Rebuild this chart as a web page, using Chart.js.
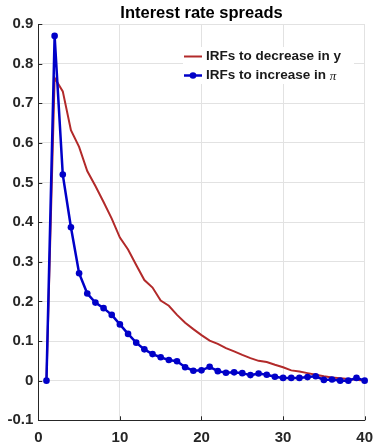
<!DOCTYPE html>
<html><head><meta charset="utf-8">
<script src="https://cdn.jsdelivr.net/npm/chart.js@4.4.1/dist/chart.umd.min.js"></script>
<style>html,body{margin:0;padding:0;background:#fff}#wrap{width:373px;height:442px;position:relative}canvas{display:block}</style>
</head><body><div id="wrap"><canvas id="c" width="373" height="442"></canvas></div>
<script>
const periods = [1,2,3,4,5,6,7,8,9,10,11,12,13,14,15,16,17,18,19,20,21,22,23,24,25,26,27,28,29,30,31,32,33,34,35,36,37,38,39,40];
const irfDecreaseY = [0,0.764,0.73,0.632,0.59,0.529,0.491,0.451,0.409,0.361,0.331,0.292,0.254,0.235,0.202,0.189,0.166,0.146,0.130,0.115,0.101,0.093,0.082,0.074,0.065,0.057,0.050,0.047,0.040,0.034,0.026,0.023,0.019,0.015,0.011,0.008,0.006,0.004,0.002,0.0];
const irfIncreasePi = [0,0.87,0.52,0.387,0.271,0.220,0.197,0.183,0.166,0.142,0.118,0.096,0.079,0.067,0.059,0.052,0.049,0.034,0.025,0.026,0.035,0.024,0.020,0.021,0.019,0.014,0.018,0.015,0.010,0.007,0.007,0.007,0.009,0.011,0.002,0.003,0.0,0.0,0.007,0.0];
const xTicks = [0,10,20,30,40];
const xTickLabels = ['0','10','20','30','40'];
const yTicks = [-0.1,0,0.1,0.2,0.3,0.4,0.5,0.6,0.7,0.8,0.9];
const yTickLabels = ['-0.1','0','0.1','0.2','0.3','0.4','0.5','0.6','0.7','0.8','0.9'];
const seriesLabels = ['IRFs to decrease in y', 'IRFs to increase in '];
const titleText = 'Interest rate spreads';

const RED = '#B22A2A', BLUE = '#0000C8', AXIS = '#262626', GRID = '#e2e2e2';
const FONT = '"Liberation Sans", Arial, Helvetica, sans-serif';

const toXY = (ys) => periods.map((p, i) => ({x: p, y: ys[i]}));

const inwardTicks = {
  id: 'inwardTicks',
  afterDraw(chart) {
    const {ctx, chartArea: a, scales: {x, y}} = chart;
    ctx.save();
    ctx.strokeStyle = AXIS; ctx.lineWidth = 1;
    ctx.beginPath();
    yTicks.forEach(v => { const py = Math.round(y.getPixelForValue(v)) + 0.5; ctx.moveTo(a.left, py); ctx.lineTo(a.left + 4, py); });
    xTicks.forEach(v => { const px = Math.round(x.getPixelForValue(v)) + 0.5; ctx.moveTo(px, a.bottom); ctx.lineTo(px, a.bottom - 4); });
    ctx.stroke();
    ctx.restore();
  }
};

const insideLegend = {
  id: 'insideLegend',
  afterDraw(chart) {
    const ctx = chart.ctx;
    const ds = chart.data.datasets;
    ctx.save();
    ctx.fillStyle = '#fff';
    ctx.fillRect(183, 47, 171, 37);
    const rows = [{d: ds[1], y: 56.5, marker: false}, {d: ds[0], y: 75.5, marker: true}];
    rows.forEach(r => {
      ctx.strokeStyle = r.d.borderColor; ctx.lineWidth = r.d.borderWidth;
      ctx.beginPath(); ctx.moveTo(184, r.y); ctx.lineTo(202, r.y); ctx.stroke();
      if (r.marker) { ctx.fillStyle = r.d.borderColor; ctx.beginPath(); ctx.arc(193, r.y, 3.3, 0, Math.PI * 2); ctx.fill(); }
      ctx.fillStyle = '#1a1a1a';
      ctx.font = 'bold 13.5px ' + FONT;
      ctx.textBaseline = 'middle'; ctx.textAlign = 'left';
      ctx.fillText(r.d.label, 206, r.y);
      if (r.marker) {
        const w = ctx.measureText(r.d.label).width;
        ctx.font = 'italic 13px "Liberation Serif", "DejaVu Serif", serif';
        ctx.fillText('\u03C0', 206 + w, r.y + 1);
      }
    });
    ctx.restore();
  }
};

new Chart(document.getElementById('c'), {
  type: 'line',
  data: {
    datasets: [
      {label: seriesLabels[1], data: toXY(irfIncreasePi), borderColor: BLUE, backgroundColor: BLUE, borderWidth: 2.5,
       pointRadius: 3.3, pointBackgroundColor: BLUE, pointBorderColor: BLUE, pointBorderWidth: 0, tension: 0, clip: false},
      {label: seriesLabels[0], data: toXY(irfDecreaseY), borderColor: RED, backgroundColor: RED, borderWidth: 2,
       pointRadius: 0, tension: 0}
    ]
  },
  options: {
    responsive: false, animation: false, devicePixelRatio: 1,
    layout: {padding: {left: 0, right: 0, top: 0, bottom: 0}},
    plugins: {
      legend: {display: false}, tooltip: {enabled: false},
      title: {display: true, text: titleText, fullSize: false, color: '#000',
              font: {family: FONT, size: 16.5, weight: 'bold'}, padding: {top: 3.4, bottom: 0.8}}
    },
    scales: {
      x: {type: 'linear', min: 0, max: 40,
          afterBuildTicks: s => { s.ticks = xTicks.map(v => ({value: v})); },
          afterFit: s => { s.height = 21.7; },
          grid: {color: GRID, drawTicks: false, lineWidth: 1},
          border: {display: true, color: AXIS, width: 1},
          ticks: {padding: 0, color: AXIS, font: {family: FONT, size: 15, weight: 'bold', lineHeight: 2.36}, maxRotation: 0, autoSkip: false,
                  callback: (v, i) => xTickLabels[i]}},
      y: {type: 'linear', min: -0.1, max: 0.9,
          afterBuildTicks: s => { s.ticks = yTicks.map(v => ({value: v})); },
          afterFit: s => { s.width = 38.3; },
          grid: {color: GRID, drawTicks: false, lineWidth: 1},
          border: {display: true, color: AXIS, width: 1},
          ticks: {padding: 5, color: AXIS, font: {family: FONT, size: 15, weight: 'bold'}, autoSkip: false,
                  callback: (v, i) => yTickLabels[i]}}
    }
  },
  plugins: [inwardTicks, insideLegend]
});
</script></body></html>
